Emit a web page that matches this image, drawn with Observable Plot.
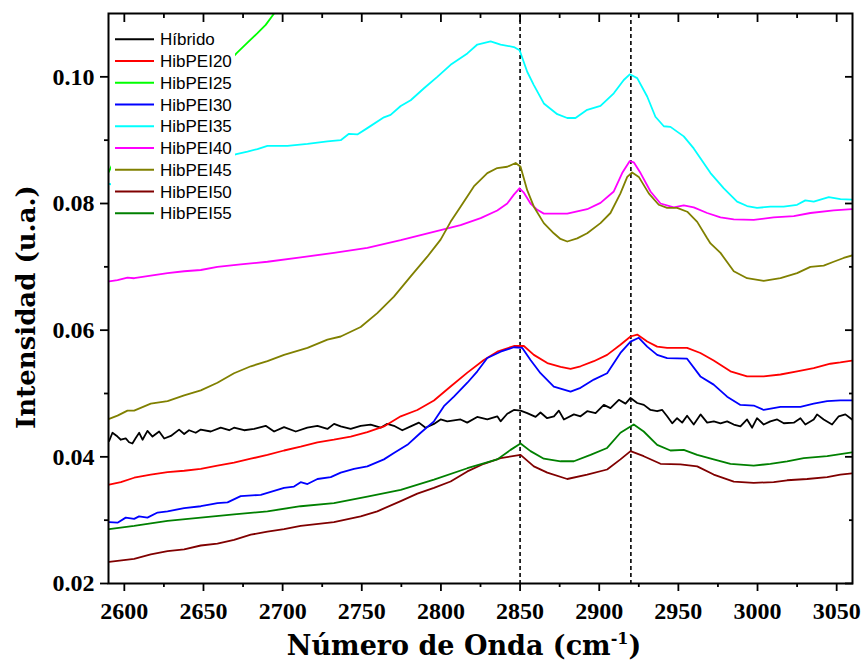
<!DOCTYPE html>
<html><head><meta charset="utf-8">
<script src="https://cdn.jsdelivr.net/npm/d3@7"></script>
<script src="https://cdn.jsdelivr.net/npm/@observablehq/plot@0.6"></script>
<style>
html,body{margin:0;padding:0;background:#fff;}
#chart{position:relative;width:864px;height:664px;}
</style></head><body><div id="chart"></div>
<script>
const seriesNames = ["Híbrido","HibPEI20","HibPEI25","HibPEI30","HibPEI35","HibPEI40","HibPEI45","HibPEI50","HibPEI55"];
const seriesColors = ["#000000","#ff0000","#00ff00","#0000ff","#00ffff","#ff00ff","#808000","#800000","#008000"];
const xTicks = [2600,2650,2700,2750,2800,2850,2900,2950,3000,3050];
const xMinorTicks = [2625,2675,2725,2775,2825,2875,2925,2975,3025];
const yTicks = [0.02,0.04,0.06,0.08,0.10];
const yMinorTicks = [0.03,0.05,0.07,0.09];
const peakLines = [2850,2920];

const hibrido = [[2590.4,0.0425],[2592.5,0.0438],[2595.7,0.0432],[2597.8,0.0427],[2600.9,0.0429],[2603.0,0.0423],[2605.1,0.0421],[2607.3,0.0430],[2609.4,0.0438],[2611.5,0.0427],[2614.6,0.0441],[2617.8,0.0432],[2622.0,0.0440],[2625.2,0.0429],[2629.4,0.0433],[2634.6,0.0443],[2637.8,0.0436],[2640.9,0.0442],[2645.1,0.0438],[2648.3,0.0443],[2654.6,0.0440],[2660.9,0.0446],[2666.2,0.0442],[2669.3,0.0446],[2675.7,0.0442],[2682.0,0.0444],[2689.3,0.0449],[2694.6,0.0440],[2700.9,0.0447],[2708.3,0.0440],[2715.6,0.0446],[2722.0,0.0449],[2728.3,0.0444],[2732.5,0.0452],[2736.7,0.0448],[2743.0,0.0444],[2749.3,0.0449],[2755.6,0.0451],[2761.9,0.0446],[2766.1,0.0452],[2770.3,0.0449],[2775.6,0.0442],[2780.9,0.0448],[2786.1,0.0454],[2790.3,0.0446],[2795.6,0.0452],[2799.8,0.0459],[2804.0,0.0456],[2812.4,0.0459],[2816.6,0.0454],[2822.9,0.0463],[2829.3,0.0459],[2835.6,0.0464],[2837.7,0.0456],[2841.9,0.0468],[2846.1,0.0474],[2850.3,0.0473],[2854.5,0.0469],[2859.8,0.0463],[2862.9,0.0470],[2867.1,0.0461],[2871.4,0.0464],[2874.5,0.0473],[2877.7,0.0459],[2884.0,0.0467],[2888.2,0.0464],[2892.4,0.0472],[2897.7,0.0469],[2902.9,0.0482],[2907.1,0.0477],[2912.4,0.0490],[2916.6,0.0484],[2919.8,0.0493],[2924.0,0.0485],[2928.2,0.0482],[2932.4,0.0474],[2936.6,0.0472],[2939.8,0.0474],[2942.9,0.0464],[2946.1,0.0453],[2949.2,0.0461],[2952.4,0.0454],[2955.5,0.0465],[2959.7,0.0451],[2964.0,0.0467],[2968.2,0.0454],[2972.4,0.0456],[2976.6,0.0453],[2980.8,0.0456],[2985.0,0.0451],[2989.2,0.0448],[2993.4,0.0459],[2996.6,0.0446],[2999.7,0.0461],[3003.9,0.0451],[3008.1,0.0456],[3012.4,0.0459],[3016.6,0.0453],[3022.9,0.0454],[3027.1,0.0461],[3030.2,0.0451],[3035.5,0.0459],[3037.6,0.0467],[3041.8,0.0459],[3047.1,0.0451],[3051.3,0.0464],[3055.5,0.0467],[3059.7,0.0459]];

const hibPEI20 = [[2590.4,0.0356],[2597.8,0.0360],[2606.2,0.0367],[2616.7,0.0372],[2627.3,0.0376],[2637.8,0.0378],[2648.3,0.0381],[2658.8,0.0386],[2669.3,0.0391],[2679.9,0.0397],[2690.4,0.0403],[2700.9,0.0410],[2711.4,0.0416],[2722.0,0.0423],[2732.4,0.0427],[2743.0,0.0432],[2753.5,0.0439],[2764.0,0.0448],[2774.6,0.0464],[2785.1,0.0474],[2795.6,0.0489],[2806.1,0.0511],[2816.7,0.0533],[2827.1,0.0553],[2835.6,0.0566],[2846.1,0.0575],[2852.4,0.0575],[2858.7,0.0561],[2867.2,0.0548],[2875.6,0.0542],[2881.9,0.0539],[2888.2,0.0543],[2896.6,0.0551],[2905.0,0.0561],[2913.4,0.0577],[2919.8,0.0590],[2924.0,0.0593],[2930.3,0.0582],[2936.6,0.0574],[2942.9,0.0572],[2955.5,0.0572],[2963.9,0.0564],[2972.3,0.0552],[2982.9,0.0535],[2993.4,0.0527],[3003.9,0.0527],[3014.5,0.0530],[3025.0,0.0535],[3035.5,0.0540],[3046.0,0.0547],[3052.3,0.0549],[3059.7,0.0552]];

const hibPEI25 = [[2590.2,0.0850],[2592.5,0.0862],[2600.0,0.0872],[2620.0,0.0910],[2640.0,0.0955],[2655.0,0.0993],[2670.8,0.1037],[2677.8,0.1054],[2684.1,0.1069],[2689.3,0.1082],[2694.6,0.1100],[2700.0,0.1118],[2710.0,0.1140]];

const hibPEI30 = [[2590.4,0.0297],[2595.7,0.0296],[2600.9,0.0304],[2606.2,0.0302],[2609.3,0.0306],[2614.6,0.0304],[2621.0,0.0312],[2627.3,0.0314],[2637.8,0.0319],[2648.3,0.0322],[2654.6,0.0325],[2658.8,0.0327],[2665.2,0.0328],[2673.5,0.0338],[2686.2,0.0340],[2690.4,0.0343],[2700.9,0.0351],[2707.2,0.0353],[2711.4,0.0360],[2715.7,0.0357],[2722.0,0.0365],[2730.4,0.0368],[2736.7,0.0375],[2745.1,0.0381],[2753.5,0.0385],[2764.0,0.0396],[2770.3,0.0406],[2778.8,0.0419],[2787.2,0.0438],[2795.6,0.0456],[2801.9,0.0480],[2808.2,0.0495],[2816.7,0.0517],[2823.0,0.0535],[2829.3,0.0556],[2837.7,0.0566],[2846.1,0.0573],[2851.4,0.0572],[2856.6,0.0553],[2862.9,0.0532],[2871.3,0.0511],[2881.9,0.0503],[2888.2,0.0509],[2896.6,0.0522],[2905.0,0.0532],[2913.4,0.0564],[2919.8,0.0582],[2925.0,0.0588],[2930.3,0.0574],[2936.6,0.0561],[2942.9,0.0556],[2955.5,0.0555],[2963.9,0.0527],[2972.3,0.0514],[2980.8,0.0495],[2989.2,0.0482],[2997.6,0.0481],[3003.9,0.0474],[3014.5,0.0479],[3027.1,0.0479],[3035.5,0.0484],[3044.0,0.0488],[3052.3,0.0489],[3059.7,0.0489]];

const hibPEI35 = [[2590.2,0.0831],[2592.5,0.0830],[2610.0,0.0840],[2630.0,0.0850],[2650.0,0.0862],[2670.8,0.0878],[2677.8,0.0882],[2684.1,0.0886],[2690.4,0.0891],[2703.0,0.0891],[2715.7,0.0894],[2728.3,0.0898],[2736.7,0.0900],[2741.9,0.0910],[2747.2,0.0909],[2753.5,0.0919],[2764.0,0.0936],[2768.2,0.0940],[2774.6,0.0954],[2780.9,0.0963],[2789.3,0.0982],[2797.7,0.1000],[2806.1,0.1019],[2816.7,0.1037],[2823.0,0.1051],[2831.4,0.1056],[2837.7,0.1051],[2846.1,0.1047],[2849.7,0.1042],[2854.5,0.1008],[2858.7,0.0987],[2865.0,0.0958],[2873.5,0.0941],[2879.8,0.0935],[2885.0,0.0935],[2892.4,0.0948],[2900.8,0.0954],[2909.2,0.0974],[2915.5,0.0995],[2919.3,0.1004],[2924.0,0.0998],[2930.3,0.0969],[2935.5,0.0937],[2940.8,0.0922],[2945.0,0.0921],[2953.4,0.0906],[2959.7,0.0887],[2970.3,0.0848],[2978.7,0.0824],[2987.1,0.0803],[2993.4,0.0796],[2999.7,0.0793],[3008.1,0.0795],[3016.5,0.0795],[3025.0,0.0798],[3030.2,0.0805],[3035.5,0.0803],[3045.0,0.0810],[3052.4,0.0807],[3059.7,0.0806]];

const hibPEI40 = [[2590.4,0.0677],[2595.7,0.0679],[2602.0,0.0683],[2606.2,0.0682],[2616.7,0.0686],[2627.3,0.0690],[2637.8,0.0693],[2648.3,0.0695],[2658.8,0.0700],[2673.5,0.0704],[2690.4,0.0708],[2711.4,0.0715],[2732.4,0.0722],[2753.5,0.0730],[2774.6,0.0742],[2787.2,0.0750],[2799.8,0.0758],[2812.4,0.0766],[2825.1,0.0777],[2835.6,0.0789],[2841.9,0.0800],[2846.1,0.0814],[2849.6,0.0824],[2852.4,0.0817],[2856.6,0.0800],[2860.9,0.0790],[2865.0,0.0784],[2879.8,0.0784],[2892.4,0.0791],[2900.8,0.0801],[2909.2,0.0819],[2914.5,0.0848],[2919.3,0.0867],[2921.8,0.0865],[2926.1,0.0848],[2932.4,0.0819],[2938.7,0.0800],[2947.1,0.0794],[2953.4,0.0797],[2959.7,0.0794],[2968.2,0.0785],[2976.6,0.0778],[2985.0,0.0775],[2997.6,0.0774],[3010.2,0.0778],[3022.9,0.0780],[3033.4,0.0785],[3048.1,0.0789],[3059.7,0.0791]];

const hibPEI45 = [[2590.4,0.0460],[2595.7,0.0465],[2602.0,0.0473],[2606.2,0.0473],[2616.7,0.0484],[2627.3,0.0488],[2637.8,0.0497],[2648.3,0.0505],[2658.8,0.0517],[2669.3,0.0532],[2679.9,0.0543],[2690.4,0.0551],[2700.9,0.0561],[2715.7,0.0572],[2728.3,0.0585],[2736.7,0.0590],[2749.3,0.0605],[2759.8,0.0627],[2770.3,0.0653],[2780.9,0.0685],[2791.4,0.0716],[2799.8,0.0743],[2806.1,0.0771],[2812.4,0.0795],[2820.8,0.0827],[2829.3,0.0848],[2835.6,0.0856],[2841.9,0.0858],[2847.2,0.0864],[2850.3,0.0858],[2854.5,0.0821],[2858.7,0.0795],[2865.0,0.0769],[2871.3,0.0753],[2875.5,0.0744],[2879.8,0.0740],[2886.1,0.0745],[2892.4,0.0753],[2900.8,0.0769],[2907.1,0.0785],[2913.4,0.0816],[2917.7,0.0842],[2920.8,0.0849],[2925.0,0.0842],[2931.3,0.0816],[2937.6,0.0798],[2942.9,0.0793],[2949.2,0.0793],[2955.6,0.0787],[2961.9,0.0771],[2968.2,0.0745],[2970.3,0.0737],[2976.6,0.0722],[2985.0,0.0693],[2993.4,0.0682],[3003.9,0.0678],[3014.5,0.0682],[3025.0,0.0690],[3033.4,0.0700],[3041.8,0.0702],[3048.1,0.0708],[3054.4,0.0714],[3059.7,0.0718]];

const hibPEI50 = [[2590.4,0.0234],[2606.2,0.0239],[2616.7,0.0246],[2627.3,0.0251],[2637.8,0.0254],[2648.3,0.0260],[2658.8,0.0263],[2669.3,0.0269],[2679.9,0.0277],[2690.4,0.0282],[2700.9,0.0286],[2711.4,0.0291],[2732.4,0.0297],[2749.3,0.0306],[2759.8,0.0314],[2774.6,0.0330],[2785.1,0.0342],[2795.6,0.0351],[2806.1,0.0361],[2816.7,0.0377],[2827.1,0.0389],[2837.7,0.0398],[2850.3,0.0403],[2858.7,0.0385],[2867.2,0.0375],[2879.8,0.0365],[2892.4,0.0372],[2905.0,0.0380],[2913.4,0.0396],[2919.8,0.0409],[2928.1,0.0401],[2938.7,0.0389],[2951.3,0.0388],[2961.9,0.0385],[2972.3,0.0372],[2985.0,0.0361],[2997.6,0.0359],[3010.2,0.0360],[3018.7,0.0363],[3031.3,0.0365],[3044.0,0.0368],[3052.3,0.0372],[3059.7,0.0374]];

const hibPEI55 = [[2590.4,0.0286],[2606.2,0.0291],[2616.7,0.0295],[2627.3,0.0299],[2648.3,0.0304],[2669.3,0.0309],[2690.4,0.0314],[2711.4,0.0322],[2732.4,0.0327],[2753.5,0.0337],[2774.6,0.0348],[2795.6,0.0364],[2816.7,0.0382],[2835.6,0.0396],[2844.0,0.0411],[2850.3,0.0421],[2856.6,0.0409],[2865.0,0.0397],[2875.6,0.0393],[2884.0,0.0393],[2894.5,0.0403],[2905.0,0.0414],[2913.4,0.0438],[2921.8,0.0451],[2928.1,0.0440],[2936.6,0.0419],[2945.0,0.0410],[2953.4,0.0411],[2961.9,0.0403],[2972.3,0.0396],[2982.9,0.0389],[2997.6,0.0386],[3008.1,0.0389],[3018.7,0.0393],[3029.2,0.0398],[3044.0,0.0401],[3059.7,0.0407]];

const seriesData = [hibrido,hibPEI20,hibPEI25,hibPEI30,hibPEI35,hibPEI40,hibPEI45,hibPEI50,hibPEI55];
const rows = seriesData.flatMap((pts, i) => pts.map(([x, y]) => ({series: seriesNames[i], x, y})));

const tickFont = {fontFamily: "Liberation Serif", fontWeight: "bold", fontSize: 24};

const svg = Plot.plot({
  width: 864, height: 664,
  marginLeft: 108, marginRight: 12, marginTop: 13, marginBottom: 81,
  style: {background: "white", color: "black"},
  x: {domain: [2590, 3060]},
  y: {domain: [0.02, 0.11]},
  color: {domain: seriesNames, range: seriesColors},
  marks: [
    Plot.ruleX(peakLines, {x: d => d, stroke: "black", strokeWidth: 1.6, strokeDasharray: "4,3"}),
    Plot.line(rows, {x: "x", y: "y", z: "series", stroke: "series", strokeWidth: 1.8, clip: true}),
    Plot.frame({stroke: "black", strokeWidth: 2}),
    Plot.axisX({ticks: xTicks, tickSize: 8, tickPadding: 10, tickFormat: d => String(d), label: null, strokeWidth: 1.8, ...tickFont}),
    Plot.axisX({ticks: xMinorTicks, tickSize: 4, text: null, label: null, strokeWidth: 1.8}),
    Plot.axisX({anchor: "top", ticks: xTicks, tickSize: -8, text: null, label: null, strokeWidth: 1.8}),
    Plot.axisX({anchor: "top", ticks: xMinorTicks, tickSize: -4, text: null, label: null, strokeWidth: 1.8}),
    Plot.axisY({ticks: yTicks, tickSize: 8, tickPadding: 6, tickFormat: d3.format(".2f"), label: null, strokeWidth: 1.8, ...tickFont}),
    Plot.axisY({ticks: yMinorTicks, tickSize: 4, text: null, label: null, strokeWidth: 1.8}),
    Plot.axisY({anchor: "right", ticks: yTicks, tickSize: -8, text: null, label: null, strokeWidth: 1.8}),
    Plot.axisY({anchor: "right", ticks: yMinorTicks, tickSize: -4, text: null, label: null, strokeWidth: 1.8})
  ]
});

const s = d3.select(svg);
// axis titles
s.append("text")
  .attr("transform", "translate(35,307) rotate(-90)")
  .attr("text-anchor", "middle")
  .attr("font-family", "DejaVu Serif").attr("font-weight", "bold").attr("font-size", 26)
  .attr("fill", "black")
  .text("Intensidad (u.a.)");
const xt = s.append("text")
  .attr("x", 464).attr("y", 655)
  .attr("text-anchor", "middle")
  .attr("font-family", "DejaVu Serif").attr("font-weight", "bold").attr("font-size", 27)
  .attr("fill", "black");
xt.append("tspan").text("Número de Onda (cm");
xt.append("tspan").attr("dy", -11).attr("font-size", 16).text("-1");
xt.append("tspan").attr("dy", 11).text(")");

// legend (white box over the curves)
const lg = s.append("g").attr("text-anchor", "start");
lg.append("rect").attr("x", 111).attr("y", 25).attr("width", 124).attr("height", 203).attr("fill", "white");
seriesNames.forEach((name, i) => {
  const cy = 39.3 + i * 21.75;
  lg.append("line").attr("x1", 115).attr("x2", 154).attr("y1", cy).attr("y2", cy)
    .attr("stroke", seriesColors[i]).attr("stroke-width", 2);
  lg.append("text").attr("x", 160).attr("y", cy).attr("dy", "0.35em")
    .attr("text-anchor", "start")
    .attr("font-family", "Liberation Sans, Arial, sans-serif").attr("font-size", 17).attr("fill", "black")
    .text(name);
});

document.getElementById("chart").appendChild(svg);
</script></body></html>
